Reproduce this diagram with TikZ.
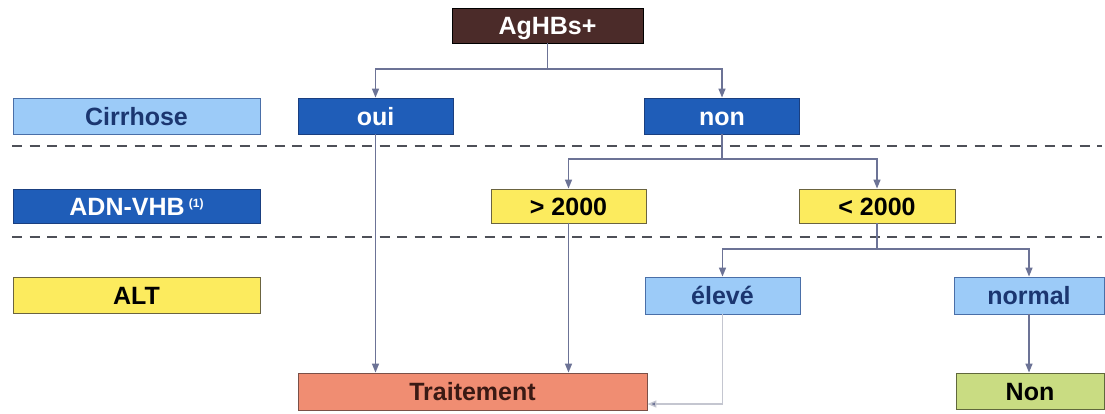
\documentclass[tikz,border=0pt]{standalone}
\usepackage{fontspec}
\setmainfont{Liberation Sans}
\usetikzlibrary{arrows.meta}
\definecolor{agfill}{HTML}{4B2B29}
\definecolor{lblue}{HTML}{9CCBF8}
\definecolor{lblueedge}{HTML}{4A6FA8}
\definecolor{navytxt}{HTML}{1B3670}
\definecolor{dblue}{HTML}{1F5DB8}
\definecolor{dblueedge}{HTML}{1A3F80}
\definecolor{yel}{HTML}{FCEB5E}
\definecolor{yeledge}{HTML}{6B6440}
\definecolor{salmon}{HTML}{F08D72}
\definecolor{salmonedge}{HTML}{7A5048}
\definecolor{trtxt}{HTML}{3A1A14}
\definecolor{lgreen}{HTML}{C9DC82}
\definecolor{lgreenedge}{HTML}{60683C}
\definecolor{conncol}{HTML}{6C7396}
\definecolor{faintcol}{HTML}{C4C6D0}
\definecolor{dashcol}{HTML}{4E5058}
\tikzset{
  box/.style={rectangle, inner sep=0pt, line width=0.9pt, font=\fontsize{25}{30}\selectfont\bfseries, anchor=center, text height=18.5pt, text depth=0pt},
  agbox/.style={box, fill=agfill, draw=black, text=white},
  lbbox/.style={box, fill=lblue, draw=lblueedge, text=navytxt},
  dbbox/.style={box, fill=dblue, draw=dblueedge, text=white},
  ybox/.style={box, fill=yel, draw=yeledge, text=black},
  tbox/.style={box, fill=salmon, draw=salmonedge, text=trtxt},
  gbox/.style={box, fill=lgreen, draw=lgreenedge, text=black},
  conn/.style={draw=conncol, line width=1.4pt},
  arr/.style={conn, -{Triangle[length=9pt,width=7pt]}},
  faintarr/.style={draw=faintcol, line width=1.4pt, -{Triangle[length=9pt,width=7pt,fill=conncol]}},
  sep/.style={draw=dashcol, dash pattern=on 10pt off 7.5pt},
}
\begin{document}
\begin{tikzpicture}[x=1pt,y=-1pt]
\useasboundingbox (0,0) rectangle (1105,413);
\fill[white] (0,0) rectangle (1105,413);
% separators
\coordinate (s1a) at (12,146);
\coordinate (s1b) at (1102,146);
\coordinate (s2a) at (12,237);
\coordinate (s2b) at (1102,237);
\draw[sep, line width=2pt] (s1a) -- (s1b);
\draw[sep, line width=1.3pt] (s2a) -- (s2b);
% nodes
\node[agbox, minimum width=191pt, minimum height=35pt] (ag) at (547.5,25.5) {AgHBs+};
\node[lbbox, minimum width=247pt, minimum height=36pt] (cirr) at (136.5,116) {Cirrhose};
\node[dbbox, minimum width=155pt, minimum height=36pt] (oui) at (375.5,116) {oui};
\node[dbbox, minimum width=155pt, minimum height=36pt] (non) at (722,116) {non};
\node[dbbox, minimum width=247pt, minimum height=34pt] (adn) at (136.5,206) {ADN-VHB\,\raisebox{0.55ex}{\fontsize{12}{12}\selectfont(1)}};
\node[ybox, minimum width=155pt, minimum height=34pt] (gt) at (568.5,206) {> 2000};
\node[ybox, minimum width=156pt, minimum height=34pt] (lt) at (877,206) {< 2000};
\node[ybox, minimum width=247pt, minimum height=36pt] (alt) at (136.5,295) {ALT};
\node[lbbox, minimum width=155pt, minimum height=37pt] (elev) at (722.5,295.5) {élevé};
\node[lbbox, minimum width=150pt, minimum height=37pt] (norm) at (1029,295.5) {normal};
\node[tbox, minimum width=349pt, minimum height=37pt] (trait) at (472.5,391.5) {Traitement};
\node[gbox, minimum width=148pt, minimum height=36pt] (nonf) at (1030,391) {Non};
% connectors
\coordinate (j1) at (547.5,69);
\coordinate (j2) at (722,159);
\coordinate (j3) at (877,249);
\draw[conn] (ag.south) -- (j1);
\draw[arr] (j1) -| (oui.north);
\draw[arr] (j1) -| (non.north);
\draw[conn] (non.south) -- (j2);
\draw[arr] (j2) -| (gt.north);
\draw[arr] (j2) -| (lt.north);
\draw[conn] (lt.south) -- (j3);
\draw[arr] (j3) -| (elev.north);
\draw[arr] (j3) -| (norm.north);
\draw[arr] (oui.south) -- (oui.south |- trait.north);
\draw[arr] (gt.south) -- (gt.south |- trait.north);
\draw[arr] (norm.south) -- (norm.south |- nonf.north);
\draw[faintarr] (elev.south) |- ([yshift=-12.5pt]trait.east);
\end{tikzpicture}
\end{document}
